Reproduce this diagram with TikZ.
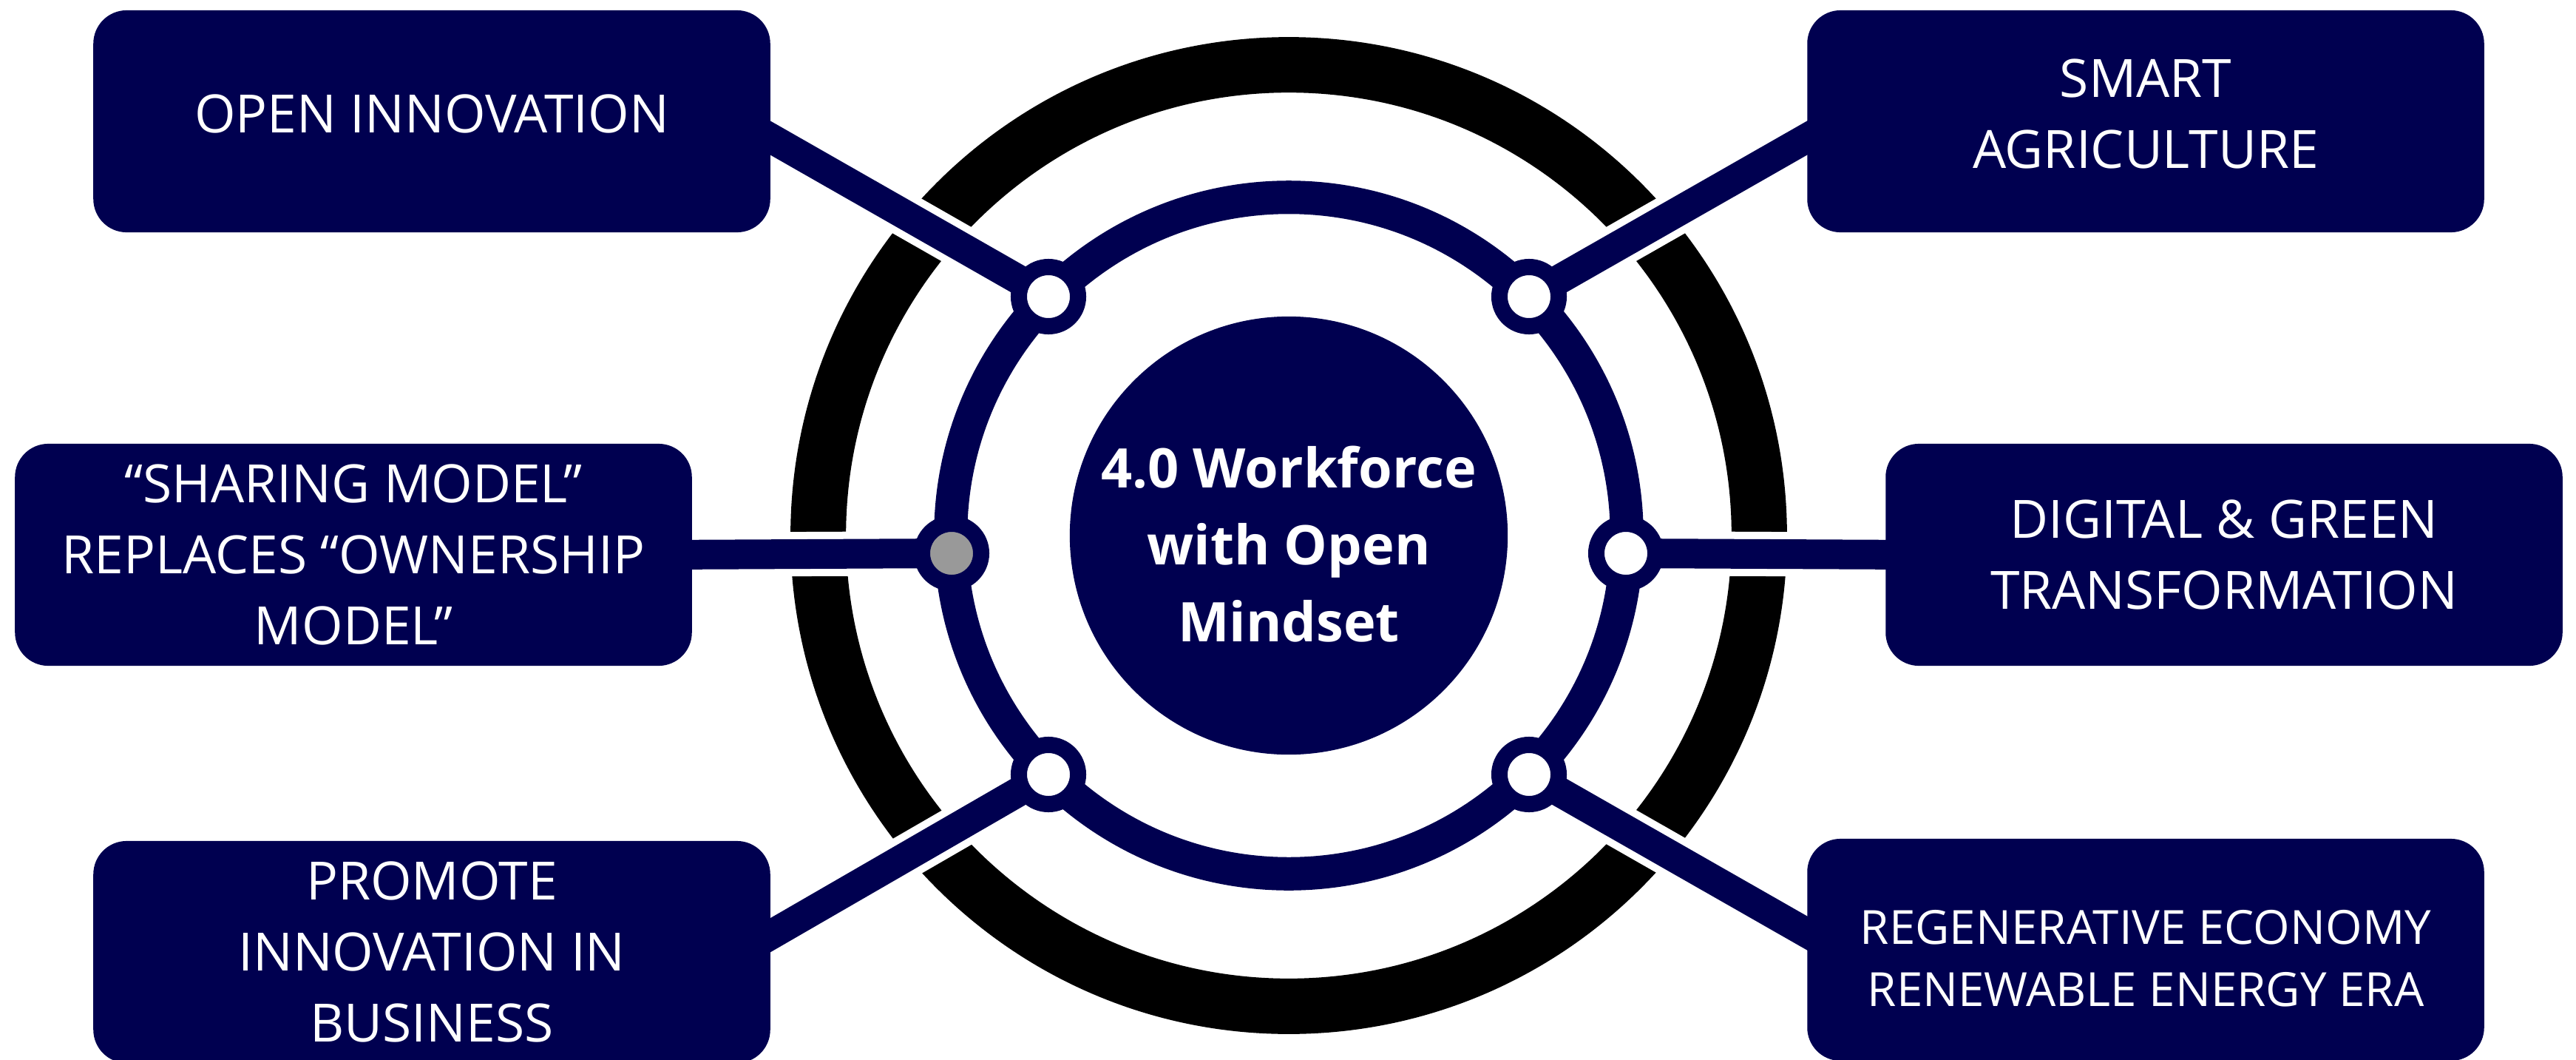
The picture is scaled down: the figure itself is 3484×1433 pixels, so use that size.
\documentclass[tikz,border=0pt]{standalone}
\usepackage{fontspec}
\setmainfont{Open Sans}
\usetikzlibrary{calc,backgrounds}
\definecolor{navy}{RGB}{0,0,80}
\tikzset{
	topic/.style={fill=navy, text=white, rounded corners=0.45cm, minimum width=9.15cm, minimum height=3cm, inner sep=0pt, align=center, font=\fontsize{20.3}{27.3}\selectfont},
	hub/.style={circle, fill=white, draw=navy, line width=0.22cm, minimum size=0.8cm, inner sep=0pt},
	spoke/.style={draw=white, line width=0.10cm, double=navy, double distance=0.40cm},
}

\begin{document}
\begin{tikzpicture}[x=0.01cm, y=-0.01cm]
		%%%%% START %%%%%
		\useasboundingbox (0, 0) rectangle (3484, 1433);
		\coordinate (c) at (1743, 724);
		
		% core
		\node[circle, fill=navy, minimum size=5.92cm, inner sep=0pt] (core) at (c) {};
		\node[text=white, align=center, font=\bfseries\fontsize{21}{29.6}\selectfont] (coretext) at (1743, 736) {4.0 Workforce\\with Open\\Mindset};
		
		% hubs on the ring
		\node[hub] (htl) at (1418, 401) {};
		\node[hub] (htr) at (2068, 401) {};
		\node[hub, fill=black!40] (hl) at (1287, 748) {};
		\node[hub] (hr) at (2199, 748) {};
		\node[hub] (hbl) at (1418, 1047) {};
		\node[hub] (hbr) at (2068, 1047) {};
		
		% topic boxes
		\node[topic, text depth=0.2cm] (oi) at (584, 164) {OPEN INNOVATION};
		\node[topic, text depth=0.2cm] (sa) at (2902, 164) {SMART\\AGRICULTURE};
		\node[topic] (sm) at (478, 750) {“SHARING MODEL”\\REPLACES “OWNERSHIP\\MODEL”};
		\node[topic] (dg) at (3008, 750) {DIGITAL \& GREEN\\TRANSFORMATION};
		\node[topic] (pi) at (584, 1287) {PROMOTE\\INNOVATION IN\\BUSINESS};
		\node[topic, font=\fontsize{18.1}{23.9}\selectfont] (re) at (2902, 1284) {\rule{0pt}{0.69cm}REGENERATIVE ECONOMY\\RENEWABLE ENERGY ERA};
		
		\begin{pgfonlayer}{background}
			\draw[line width=0.75cm] (c) circle[radius=6.36cm];
			
			% spokes, cut through the outer ring
			\draw[spoke] (htl.center) -- ($(oi.east)+(-40, 0)$);
			\draw[spoke] (htr.center) -- ($(sa.west)+(40, 0)$);
			\draw[spoke] (hl.center) -- ($(sm.east)+(-40, 0)$);
			\draw[spoke] (hr.center) -- ($(dg.west)+(40, 0)$);
			\draw[spoke] (hbl.center) -- ($(pi.east)+(-40, 0)$);
			\draw[spoke] (hbr.center) -- ($(re.west)+(40, 0)$);
			
			\draw[navy, line width=0.45cm] (c) circle[radius=4.57cm];
		\end{pgfonlayer}
		%%%%% END %%%%%
\end{tikzpicture}
\end{document}
